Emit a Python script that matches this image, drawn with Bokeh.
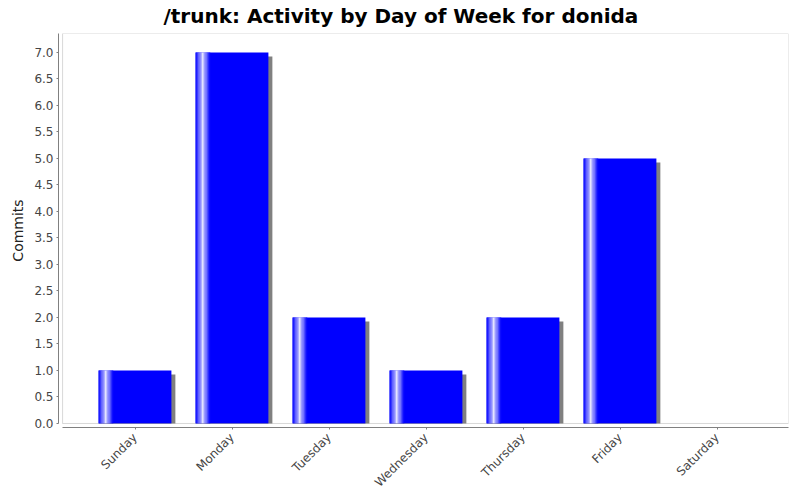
import math
from bokeh.plotting import figure
from bokeh.models import ColumnDataSource, FixedTicker, Range1d, BoxAnnotation, PrintfTickFormatter
from bokeh.embed import file_html
from bokeh.resources import INLINE

# ---- data ----
title_text = "/trunk: Activity by Day of Week for donida"
days = ["Sunday", "Monday", "Tuesday", "Wednesday", "Thursday", "Friday", "Saturday"]
commits = [1, 7, 2, 1, 2, 5, 0]
y_ticks = [0.0, 0.5, 1.0, 1.5, 2.0, 2.5, 3.0, 3.5, 4.0, 4.5, 5.0, 5.5, 6.0, 6.5, 7.0]

# ---- styling / layout constants ----
BAR_W = 0.75
SHADOW_DX = 0.041
SHADOW_DY = 0.075
X_START, X_INNER, X_END = -0.789, -0.747, 6.737
Y_START, Y_END = -0.0755, 7.358
GRAY = "#808080"
LABEL = "#444444"
FONT = "DejaVu Sans"
FRAME_L, FRAME_R, FRAME_T, FRAME_B = 58, 788, 33, 427

idx = list(range(len(days)))

p = figure(width=800, height=500, output_backend="svg", toolbar_location=None,
           x_range=Range1d(X_START, X_END), y_range=Range1d(Y_START, Y_END),
           min_border_left=FRAME_L, min_border_right=800 - FRAME_R, min_border_top=FRAME_T,
           min_border_bottom=500 - FRAME_B)
p.background_fill_color = "white"
p.border_fill_color = "white"
p.outline_line_color = None
p.xgrid.visible = False
p.ygrid.visible = False

# shadows
sh = ColumnDataSource(dict(
    x=[i + SHADOW_DX for i in idx],
    top=[max(v - SHADOW_DY, 0) for v in commits],
))
p.vbar(x="x", top="top", bottom=0, width=BAR_W, source=sh, fill_color=GRAY, line_color=None)

# main bars
src = ColumnDataSource(dict(x=idx, top=commits))
p.vbar(x="x", top="top", bottom=0, width=BAR_W, source=src, fill_color="#0000ff", line_color=None)

# gradient strips (left 20% of each bar: blue -> white -> blue)
N = 18
sw = BAR_W * 0.2 / N
gx, gt, gc = [], [], []
for i, v in zip(idx, commits):
    if v <= 0:
        continue
    for k in range(N):
        t = (k + 0.5) / N * 0.2
        s = t / 0.1 if t < 0.1 else 1 - (t - 0.1) / 0.1
        c = int(round(255 * s))
        gx.append(i - BAR_W / 2 + (k + 0.5) * sw)
        gt.append(v)
        gc.append("#%02x%02xff" % (c, c))
gs = ColumnDataSource(dict(x=gx, top=gt, color=gc))
p.vbar(x="x", top="top", bottom=0, width=sw * 1.15, source=gs, fill_color="color", line_color=None)

# inner plot outline
p.add_layout(BoxAnnotation(left=X_INNER, right=X_END, bottom=0, top=Y_END,
                           fill_alpha=0, line_color=GRAY, line_width=1))

# axes
xa = p.xaxis[0]
xa.ticker = FixedTicker(ticks=idx)
xa.major_label_overrides = {i: d for i, d in zip(idx, days)}
xa.major_label_orientation = math.pi / 4
xa.bounds = (X_INNER, X_END)
ya = p.yaxis[0]
ya.ticker = FixedTicker(ticks=y_ticks)
ya.formatter = PrintfTickFormatter(format="%.1f")
ya.bounds = (0, Y_END)
ya.axis_label = "Commits"
for ax in (xa, ya):
    ax.axis_line_color = GRAY
    ax.major_tick_line_color = GRAY
    ax.major_tick_out = 2
    ax.major_tick_in = 0
    ax.minor_tick_line_color = None
    ax.major_label_text_font = FONT
    ax.major_label_text_font_size = "12px"
    ax.major_label_text_color = LABEL
    ax.major_label_standoff = 3
xa.major_label_standoff = 6
ya.axis_label_text_font = FONT
ya.axis_label_text_font_size = "14px"
ya.axis_label_text_font_style = "normal"
ya.axis_label_text_color = "#222222"
ya.axis_label_standoff = 5

# chart title, centred over the whole canvas
p.title.text = title_text
p.title.text_font = FONT
p.title.text_font_size = "20px"
p.title.text_font_style = "bold"
p.title.text_color = "#000000"
p.title.align = "left"
p.title.offset = 105
p.title.vertical_align = "top"
p.title.standoff = 7

open("out.html", "w").write(file_html(p, INLINE))
